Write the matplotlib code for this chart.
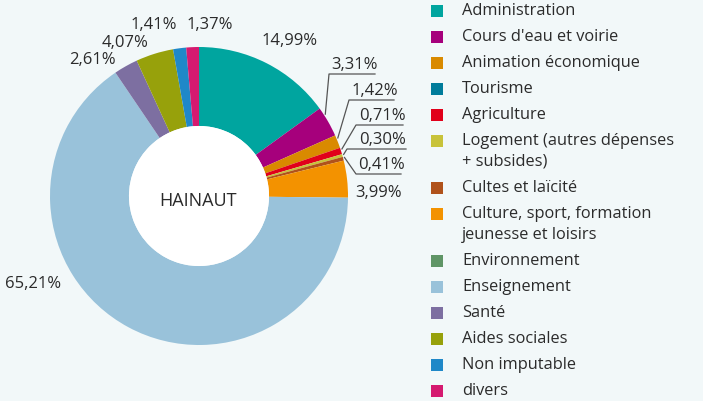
import matplotlib.pyplot as plt
import numpy as np
from matplotlib.patches import Rectangle, Circle

# data
categories = ["Administration", "Cours d'eau et voirie", "Animation économique",
              "Tourisme", "Agriculture", "Logement (autres dépenses\n+ subsides)",
              "Cultes et laïcité", "Culture, sport, formation\njeunesse et loisirs",
              "Environnement", "Enseignement", "Santé", "Aides sociales",
              "Non imputable", "divers"]
values = [14.99, 3.31, 1.42, 0.0, 0.71, 0.30, 0.41, 3.99, 0.0, 65.21, 2.61, 4.07, 1.41, 1.37]
colors = ["#00a59f", "#a6007c", "#d98a00", "#007c9b", "#e1001a", "#c8c33a",
          "#b0521b", "#f39200", "#5f9566", "#99c2da", "#7d6fa1", "#97a10b",
          "#1f88c8", "#d51a70"]

bg = "#f2f8f9"
txt = "#2b2b2b"
plt.rcParams["font.family"] = ["Open Sans", "DejaVu Sans"]

W, H = 703, 401
CX, CY, R = 199, 196, 149


def px(x, y):
    # pixel -> data coords of the pie axes
    return (x - CX) / R, (CY - y) / R


fig = plt.figure(figsize=(W / 100, H / 100), dpi=100, facecolor=bg)
ax = fig.add_axes([0, 0, 1, 1])
ax.set_facecolor(bg)

wedges, _ = ax.pie(values, colors=colors, startangle=90, counterclock=False,
                   radius=1, wedgeprops=dict(width=0.53, linewidth=0))
ax.add_patch(Circle((0, 0), 0.47, color="white", lw=0))
ax.set_xlim(px(0, 0)[0], px(W, 0)[0])
ax.set_ylim(px(0, H)[1], px(0, 0)[1])
ax.set_aspect("auto")
ax.axis("off")

ax.text(*px(198, 201), "HAINAUT", ha="center", va="center", fontsize=13, color=txt)

# labels without leader lines: index -> (center x, baseline y) in pixels
plain = {0: (290, 45), 7: (379, 197), 9: (33, 288), 10: (92, 64),
         11: (125, 47), 12: (154, 29), 13: (210, 29)}
# labels with leader lines: index -> (elbow x, line y, end x)
leader = {1: (329, 74, 375), 2: (349, 100, 394), 4: (356, 125, 403),
          5: (347, 149, 406), 6: (356, 174, 401)}

for i, v in enumerate(values):
    lab = f"{v:.2f}%".replace(".", ",")
    if i in plain:
        x, y = plain[i]
        ax.text(*px(x, y), lab, ha="center", va="baseline", fontsize=12, color=txt)
    elif i in leader:
        w = wedges[i]
        ang = np.deg2rad(w.theta1 + 0.75 * (w.theta2 - w.theta1))
        sx, sy = 1.01 * np.cos(ang), 1.01 * np.sin(ang)
        ex, ly, endx = leader[i]
        e = px(ex, ly)
        f = px(endx, ly)
        ax.plot([sx, e[0], f[0]], [sy, e[1], f[1]], color="#555555", lw=0.9)
        ax.text(*px((ex + endx) / 2 + (3 if i != 5 else 6), ly - 1), lab,
                ha="center", va="bottom", fontsize=12, color=txt)

# legend
y = 11
for name, c in zip(categories, colors):
    x0, y0 = px(431, y + 6)
    ax.add_patch(Rectangle((x0, y0), 12 / R, 12 / R, color=c, lw=0))
    lines = name.split("\n")
    for k, line in enumerate(lines):
        ax.text(*px(462, y + 21 * k), line, ha="left", va="center",
                fontsize=11.8, color=txt)
    y += 26 + 21 * (len(lines) - 1)

fig.savefig("out.png", dpi=100, facecolor=bg)
